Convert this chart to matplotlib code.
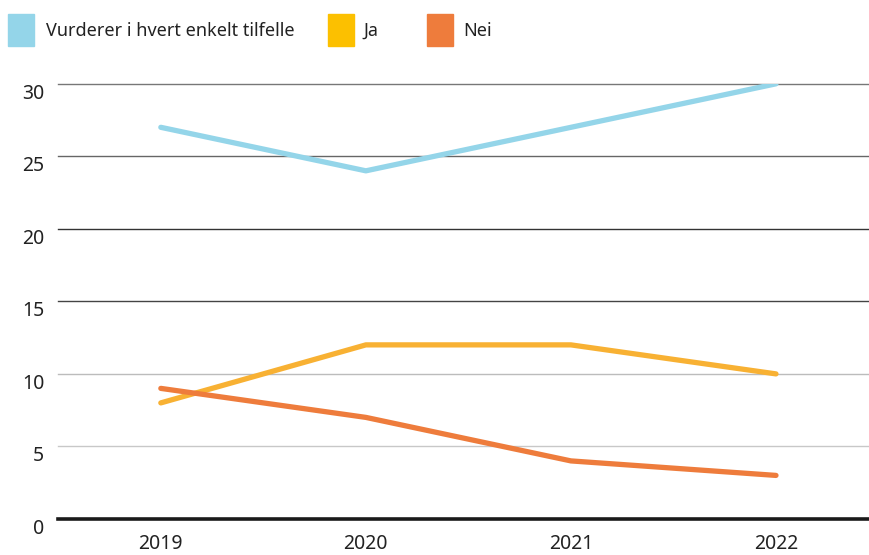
import matplotlib.pyplot as plt
from matplotlib.patches import Rectangle

# data
years = ["2019", "2020", "2021", "2022"]
vurderer = [27, 24, 27, 30]
ja = [8, 12, 12, 10]
nei = [9, 7, 4, 3]
y_ticks = [0, 5, 10, 15, 20, 25, 30]

BLUE = "#94d5e9"
YELLOW_LINE = "#f8b133"
YELLOW_BOX = "#fcc000"
ORANGE = "#ee7c3c"

plt.rcParams["font.family"] = ["Noto Sans", "DejaVu Sans"]

fig = plt.figure(figsize=(8.7, 5.55), dpi=100)
ax = fig.add_axes([0.067, 0.065, 0.931, 0.784])

x = list(range(len(years)))

# grid lines (different greys like the original)
grid_cols = {5: "#c8c8c8", 10: "#bcbcbc", 15: "#444444", 20: "#333333",
             25: "#666666", 30: "#777777"}
for t, c in grid_cols.items():
    ax.axhline(t, color=c, lw=1.0, zorder=1, clip_on=False)
ax.axhline(0, color="#1a1a1a", lw=2.6, zorder=1, clip_on=False)

ax.plot(x, vurderer, color=BLUE, lw=3.8, solid_capstyle="round", zorder=3)
ax.plot(x, ja, color=YELLOW_LINE, lw=3.8, solid_capstyle="round", zorder=3)
ax.plot(x, nei, color=ORANGE, lw=3.8, solid_capstyle="round", zorder=4)

ax.set_xlim(-0.5, 3.45)
ax.set_ylim(0, 30)
ax.set_xticks(x, years)
ax.set_yticks(y_ticks)
ax.tick_params(length=0, labelsize=14, colors="#222222")
ax.tick_params(axis="y", pad=10)
ax.tick_params(axis="x", pad=11)
for lbl in ax.get_yticklabels():
    lbl.set_va("top")
for s in ax.spines.values():
    s.set_visible(False)

# legend drawn manually
legend_items = [("Vurderer i hvert enkelt tilfelle", BLUE, 0.009, 0.053),
                ("Ja", YELLOW_BOX, 0.377, 0.418),
                ("Nei", ORANGE, 0.491, 0.533)]
for label, col, bx, tx in legend_items:
    fig.patches.append(Rectangle((bx, 0.917), 0.030, 0.058, color=col,
                                 transform=fig.transFigure))
    fig.text(tx, 0.944, label, fontsize=13, color="#222222", va="center")

fig.savefig("out.png", dpi=100)
